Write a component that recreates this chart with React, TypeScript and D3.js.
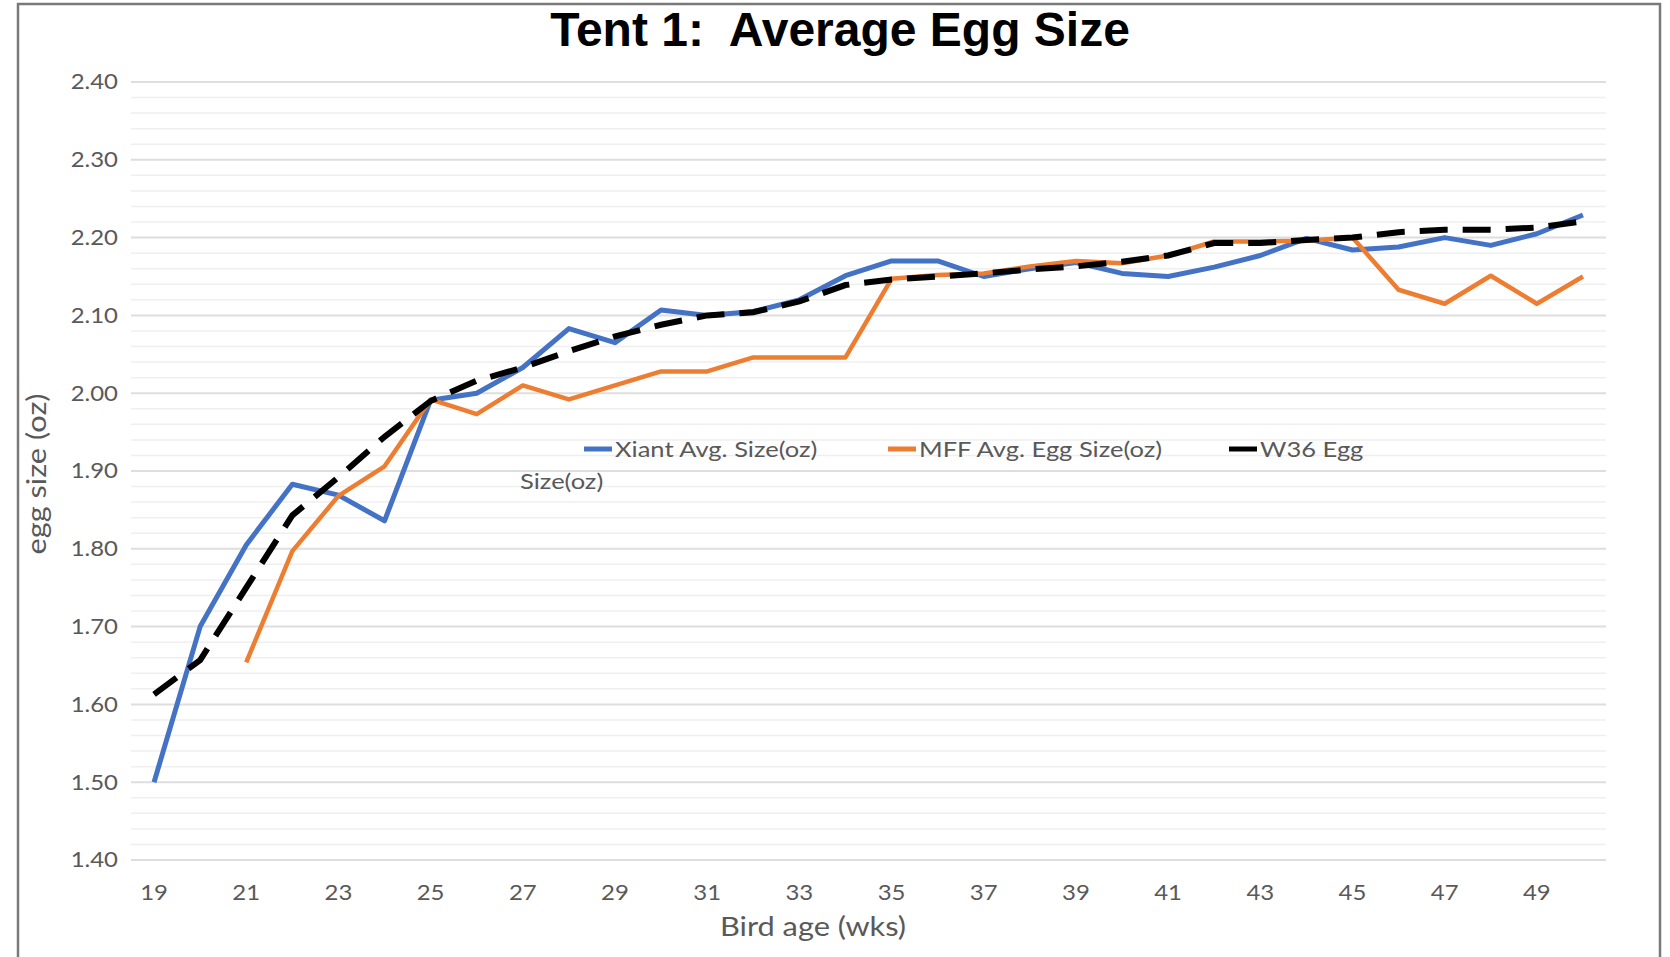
import { useRef, useEffect } from 'react';
import * as d3 from 'd3';

// bird age in weeks
const weeks = [
  19, 20, 21, 22, 23, 24, 25, 26, 27, 28, 29, 30, 31, 32, 33, 34,
  35, 36, 37, 38, 39, 40, 41, 42, 43, 44, 45, 46, 47, 48, 49, 50,
];

const xiant = [
  1.5, 1.7, 1.805, 1.883, 1.869, 1.836, 1.991, 2.0, 2.033, 2.083, 2.065, 2.107, 2.1, 2.105, 2.12, 2.151,
  2.17, 2.17, 2.15, 2.16, 2.168, 2.154, 2.15, 2.162, 2.177, 2.199, 2.184, 2.188, 2.2, 2.19, 2.205, 2.229,
];

// MFF starts at week 21
const mff = [
  null, null, 1.654, 1.797, 1.868, 1.906, 1.992, 1.973, 2.01, 1.992, 2.01, 2.028, 2.028, 2.046, 2.046, 2.046,
  2.147, 2.152, 2.154, 2.163, 2.17, 2.167, 2.177, 2.195, 2.195, 2.196, 2.2, 2.133, 2.115, 2.151, 2.115, 2.15,
];

const w36 = [
  1.613, 1.657, 1.75, 1.843, 1.892, 1.944, 1.99, 2.016, 2.033, 2.054, 2.073, 2.088, 2.1, 2.104, 2.118, 2.139,
  2.146, 2.15, 2.154, 2.159, 2.163, 2.169, 2.177, 2.193, 2.193, 2.197, 2.2, 2.207, 2.21, 2.21, 2.213, 2.221,
];

const yTicks = [1.4, 1.5, 1.6, 1.7, 1.8, 1.9, 2.0, 2.1, 2.2, 2.3, 2.4];
const xTickLabels = [19, 21, 23, 25, 27, 29, 31, 33, 35, 37, 39, 41, 43, 45, 47, 49];

const seriesNames = ['Xiant Avg. Size(oz)', 'MFF Avg. Egg Size(oz)', 'W36 Egg'];

const W = 1670;
const H = 957;
const font = 'Lato, "Open Sans", sans-serif';
const gray = '#595959';
// the source text is a wide Calibri-like face, so stretch along the text direction
const stretch = 1.14;

export default function App() {
  const ref = useRef<SVGSVGElement | null>(null);

  useEffect(() => {
    const svg = d3.select(ref.current);
    svg.selectAll('*').remove();

    svg.append('rect').attr('width', W).attr('height', H).attr('fill', '#fff');
    svg
      .append('rect')
      .attr('x', 18)
      .attr('y', 4)
      .attr('width', 1642)
      .attr('height', 980)
      .attr('fill', 'none')
      .attr('stroke', '#7a7a7a')
      .attr('stroke-width', 2.5);

    const x = d3.scalePoint<number>().domain(weeks).range([131, 1606]).padding(0.5);
    const y = d3.scaleLinear().domain([1.4, 2.4]).range([860, 82]);

    // minor gridlines
    const minor = d3.range(1.42, 2.4, 0.02).filter(v => Math.abs(Math.round(v * 10) - v * 10) > 0.01);
    svg
      .append('g')
      .selectAll('line')
      .data(minor)
      .join('line')
      .attr('x1', 131)
      .attr('x2', 1606)
      .attr('y1', d => y(d))
      .attr('y2', d => y(d))
      .attr('stroke', '#efefef')
      .attr('stroke-width', 1.5);

    // major gridlines + y labels
    const yAxis = svg.append('g');
    yAxis
      .selectAll('line')
      .data(yTicks)
      .join('line')
      .attr('x1', 131)
      .attr('x2', 1606)
      .attr('y1', d => y(d))
      .attr('y2', d => y(d))
      .attr('stroke', '#dedede')
      .attr('stroke-width', 2);
    yAxis
      .selectAll('text')
      .data(yTicks)
      .join('text')
      .attr('transform', d => `translate(118,${y(d)}) scale(${stretch},1)`)
      .attr('dy', '0.35em')
      .attr('text-anchor', 'end')
      .attr('font-family', font)
      .attr('font-size', 21)
      .attr('fill', gray)
      .text(d => d.toFixed(2));

    svg
      .append('g')
      .selectAll('text')
      .data(xTickLabels)
      .join('text')
      .attr('transform', d => `translate(${x(d)},900) scale(${stretch},1)`)
      .attr('text-anchor', 'middle')
      .attr('font-family', font)
      .attr('font-size', 21)
      .attr('fill', gray)
      .text(d => d);

    const line = d3
      .line<number | null>()
      .defined(d => d != null)
      .x((_d, i) => x(weeks[i]) as number)
      .y(d => y(d as number));

    svg
      .append('path')
      .attr('d', line(xiant))
      .attr('fill', 'none')
      .attr('stroke', '#4472c4')
      .attr('stroke-width', 5)
      .attr('stroke-linejoin', 'round');
    svg
      .append('path')
      .attr('d', line(mff))
      .attr('fill', 'none')
      .attr('stroke', '#ed7d31')
      .attr('stroke-width', 4.5)
      .attr('stroke-linejoin', 'round');
    svg
      .append('path')
      .attr('d', line(w36))
      .attr('fill', 'none')
      .attr('stroke', '#000')
      .attr('stroke-width', 6)
      .attr('stroke-dasharray', '28 15');

    // legend
    const colors = ['#4472c4', '#ed7d31', '#000'];
    const legX = [584, 888, 1229];
    const leg = svg.append('g');
    seriesNames.forEach((name, i) => {
      leg
        .append('line')
        .attr('x1', legX[i])
        .attr('x2', legX[i] + 28)
        .attr('y1', 449)
        .attr('y2', 449)
        .attr('stroke', colors[i])
        .attr('stroke-width', 5);
      leg
        .append('text')
        .attr('transform', `translate(${legX[i] + 31},457) scale(1.16,1)`)
        .attr('font-family', font)
        .attr('font-size', 22)
        .attr('fill', gray)
        .text(name);
    });
    leg
      .append('text')
      .attr('transform', 'translate(520,489) scale(1.16,1)')
      .attr('font-family', font)
      .attr('font-size', 22)
      .attr('fill', gray)
      .text('Size(oz)');

    // titles
    svg
      .append('text')
      .attr('x', 840)
      .attr('y', 46)
      .attr('text-anchor', 'middle')
      .attr('font-family', '"Liberation Sans", Arial, sans-serif')
      .attr('font-weight', 'bold')
      .attr('font-size', 48)
      .attr('fill', '#000')
      .style('white-space', 'pre')
      .text('Tent 1:  Average Egg Size');
    svg
      .append('text')
      .attr('transform', `translate(813,936) scale(${stretch},1)`)
      .attr('text-anchor', 'middle')
      .attr('font-family', font)
      .attr('font-size', 27)
      .attr('fill', gray)
      .text('Bird age (wks)');
    svg
      .append('text')
      .attr('transform', `translate(46,474) rotate(-90) scale(${stretch},1)`)
      .attr('text-anchor', 'middle')
      .attr('font-family', font)
      .attr('font-size', 27)
      .attr('fill', gray)
      .text('egg size (oz)');
  }, []);

  return (
    <svg
      ref={ref}
      width={W}
      height={H}
      style={{ position: 'absolute', left: 0, top: 0 }}
    />
  );
}
